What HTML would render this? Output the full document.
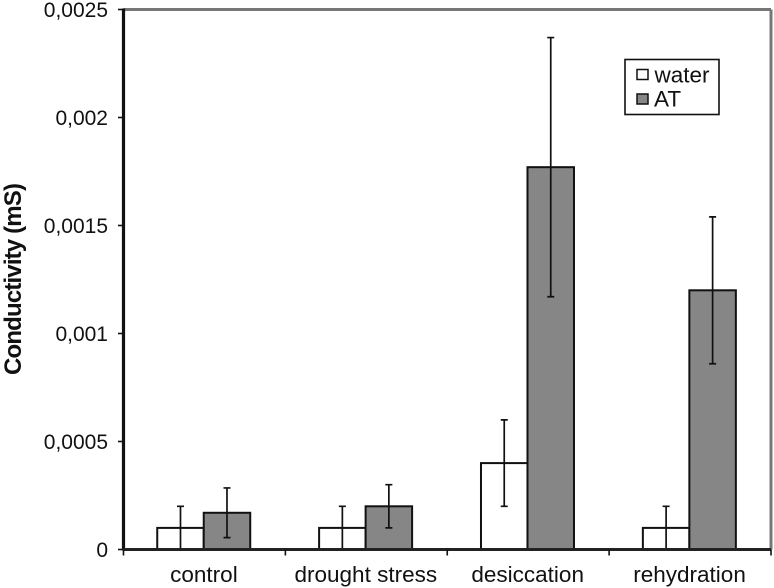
<!DOCTYPE html>
<html>
<head>
<meta charset="utf-8">
<style>
html,body{margin:0;padding:0;background:#fff;}
svg{display:block;}
text{font-family:"Liberation Sans",sans-serif;fill:#111;}
</style>
</head>
<body>
<svg id="chart" width="774" height="588" viewBox="0 0 774 588" xmlns="http://www.w3.org/2000/svg"></svg>
<script>
const categories = ['control', 'drought stress', 'desiccation', 'rehydration'];
const waterValues = [0.0001, 0.0001, 0.0004, 0.0001];
const waterErrHigh = [0.0002, 0.0002, 0.0006, 0.0002];
const waterErrLow = [0, 0, 0.0002, 0];
const atValues = [0.00017, 0.0002, 0.00177, 0.0012];
const atErrHigh = [0.000285, 0.0003, 0.00237, 0.00154];
const atErrLow = [0.000055, 0.0001, 0.00117, 0.00086];
const yTicks = [0, 0.0005, 0.001, 0.0015, 0.002, 0.0025];
const yTickLabels = ['0', '0,0005', '0,001', '0,0015', '0,002', '0,0025'];

const svg = document.getElementById('chart');
const NS = 'http://www.w3.org/2000/svg';
const plot = {left: 123.5, right: 771, top: 9.5, bottom: 549.5};
const yMax = 0.0025;
const y = v => plot.bottom - (v / yMax) * (plot.bottom - plot.top);
const catW = (plot.right - plot.left) / categories.length;
const xCat = i => plot.left + catW * i;
const barW = 46.5;

function make(tag, attrs, text) {
  const el = document.createElementNS(NS, tag);
  for (const k in attrs) el.setAttribute(k, attrs[k]);
  if (text !== undefined) el.textContent = text;
  svg.appendChild(el);
  return el;
}

// plot frame: top and right are dithered grey
const frameTop = make('line', {x1: plot.left, y1: plot.top, x2: plot.right, y2: plot.top, stroke: '#777', 'stroke-width': 3});


const frameRight = make('line', {x1: plot.right, y1: plot.top, x2: plot.right, y2: plot.bottom, stroke: '#777', 'stroke-width': 3});



// bars and error bars
function drawBar(i, offset, value, hi, lo, fill, name) {
  const x0 = xCat(i) + catW / 2 - 0.7 + offset;
  const rect = make('rect', {x: x0, y: y(value), width: barW, height: plot.bottom - y(value), fill: fill, stroke: '#111', 'stroke-width': 2});
  
  
  const cx = x0 + barW / 2;
  const err = make('path', {
    d: 'M' + cx + ' ' + y(hi) + 'V' + y(lo) + 'M' + (cx - 3.5) + ' ' + y(hi) + 'H' + (cx + 3.5) + 'M' + (cx - 3.5) + ' ' + y(lo) + 'H' + (cx + 3.5),
    fill: 'none', stroke: '#111', 'stroke-width': 1.7
  });
  
  
}
categories.forEach((c, i) => {
  drawBar(i, -barW, waterValues[i], waterErrHigh[i], waterErrLow[i], '#fff', 'water');
  drawBar(i, 0, atValues[i], atErrHigh[i], atErrLow[i], '#868686', 'at');
});

// axes
const yAxis = make('line', {x1: plot.left, y1: plot.top - 1, x2: plot.left, y2: plot.bottom + 1, stroke: '#111', 'stroke-width': 3.2});


const xAxis = make('line', {x1: plot.left, y1: plot.bottom, x2: plot.right, y2: plot.bottom, stroke: '#222', 'stroke-width': 3});



yTicks.forEach((t, i) => {
  const tick = make('line', {x1: 118, y1: y(t), x2: plot.left, y2: y(t), stroke: '#111', 'stroke-width': 1.6});
  
  
  const label = make('text', {x: 108, y: y(t) + 7.5, 'text-anchor': 'end', 'font-size': 21}, yTickLabels[i]);
  
  
});

for (let i = 0; i <= categories.length; i++) {
  const tick = make('line', {x1: xCat(i), y1: plot.bottom, x2: xCat(i), y2: plot.bottom + 6, stroke: '#111', 'stroke-width': 1.6});
  
  
}
categories.forEach((c, i) => {
  const label = make('text', {x: xCat(i) + catW / 2 - 0.5, y: 582, 'text-anchor': 'middle', 'font-size': 22.5}, c);
  
  
});

const yTitle = make('text', {transform: 'translate(21 279) rotate(-90)', 'text-anchor': 'middle', 'font-size': 24, 'font-weight': 'bold', textLength: 192, lengthAdjust: 'spacing'}, 'Conductivity (mS)');



// legend
const legendBox = make('rect', {x: 625, y: 59.5, width: 94, height: 55, fill: '#fff', stroke: '#111', 'stroke-width': 1.6});


const swWater = make('rect', {x: 637, y: 69.5, width: 11, height: 10, fill: '#fff', stroke: '#111', 'stroke-width': 1.5});


const txtWater = make('text', {x: 654.5, y: 82.5, 'font-size': 22.5}, 'water');


const swAt = make('rect', {x: 637, y: 94, width: 11, height: 10, fill: '#868686', stroke: '#111', 'stroke-width': 1.5});


const txtAt = make('text', {x: 654, y: 106.5, 'font-size': 22.5}, 'AT');


</script>
</body>
</html>
